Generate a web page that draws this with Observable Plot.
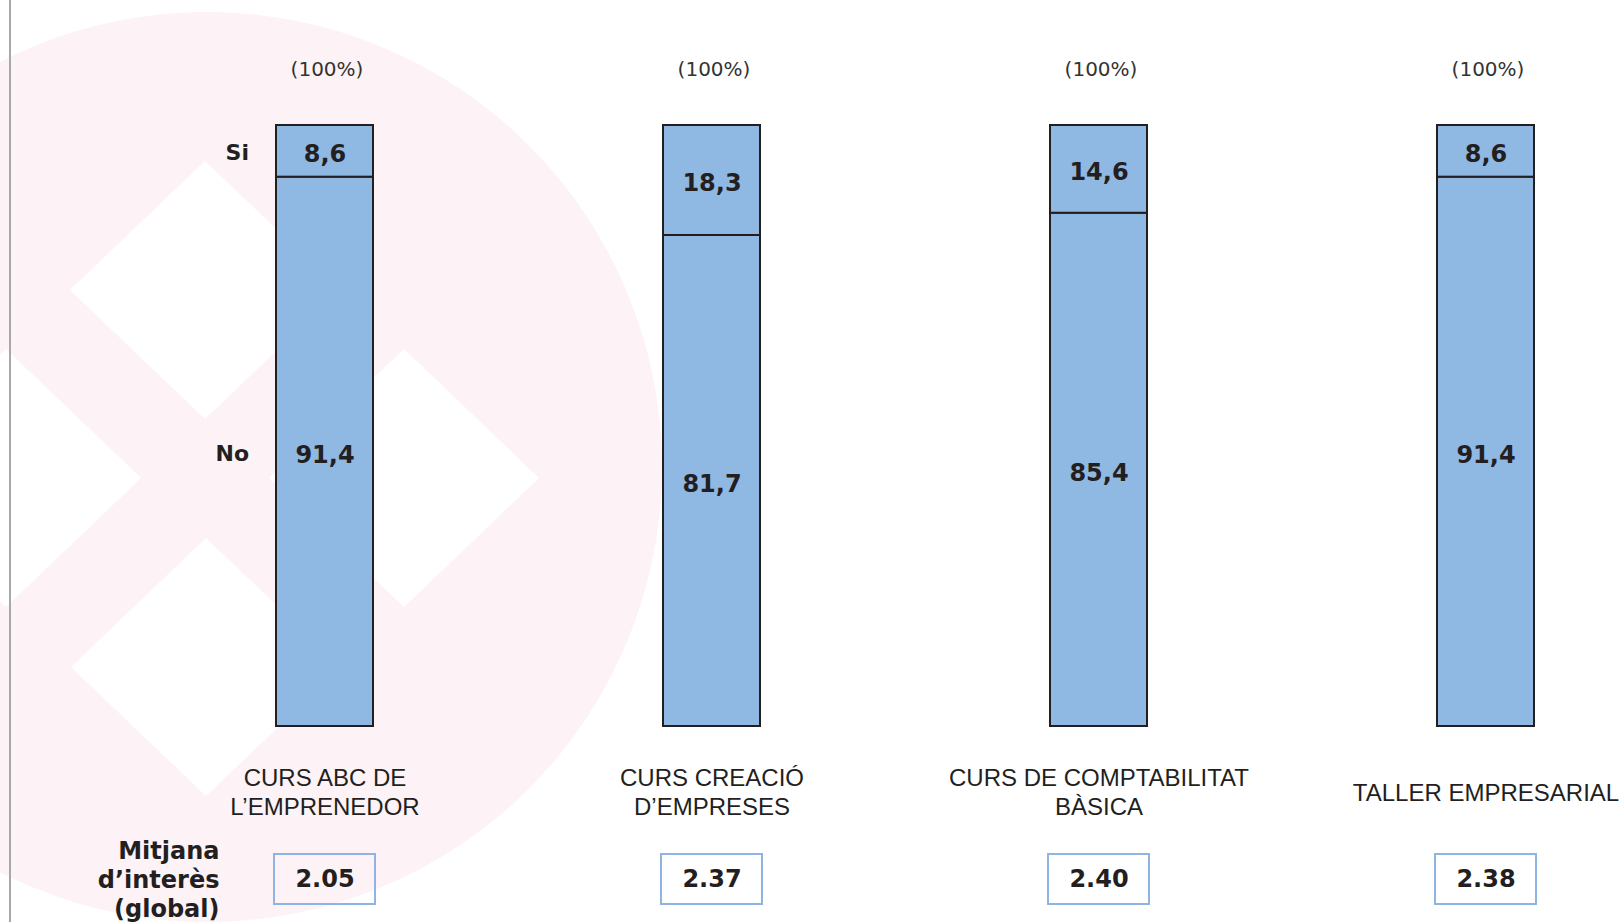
<!DOCTYPE html>
<html>
<head>
<meta charset="utf-8">
<script src="https://cdn.jsdelivr.net/npm/d3@7"></script>
<script src="https://cdn.jsdelivr.net/npm/@observablehq/plot@0.6"></script>
<style>
  html, body { margin: 0; padding: 0; background: #fff; overflow: hidden; }
  #wrap { position: relative; width: 1623px; height: 922px; }
  #bg, #chart { position: absolute; left: 0; top: 0; }
</style>
</head>
<body>
<div id="wrap">
  <svg id="bg" width="1623" height="922">
    <circle cx="207" cy="467" r="455" fill="#fdf2f5"/>
    <g fill="#ffffff">
      <polygon points="70,290 205,161 340,290 205,419"/>
      <polygon points="269,478 404,349 539,478 404,607"/>
      <polygon points="71,667 206,538 341,667 206,796"/>
      <polygon points="-129,478 6,349 141,478 6,607"/>
    </g>
    <line x1="10" y1="0" x2="10" y2="922" stroke="#a8a8a8" stroke-width="2"/>
  </svg>
  <div id="chart"></div>
</div>
<script>
// ---- data ----
const categories = [
  "CURS ABC DE\nL’EMPRENEDOR",
  "CURS CREACIÓ\nD’EMPRESES",
  "CURS DE COMPTABILITAT\nBÀSICA",
  "TALLER EMPRESARIAL"
];
const answers = ["No", "Si"];
const noValues = [91.4, 81.7, 85.4, 91.4];
const siValues = [8.6, 18.3, 14.6, 8.6];
const meanInterest = [2.05, 2.37, 2.40, 2.38];
const meanLabel = "Mitjana\nd’interès\n(global)";

// ---- tables built from the arrays ----
const rows = [];
categories.forEach((c, i) => {
  rows.push({category: c, answer: answers[0], value: noValues[i]});
  rows.push({category: c, answer: answers[1], value: siValues[i]});
});
const totals = categories.map((c, i) => ({category: c, total: noValues[i] + siValues[i]}));
const means = categories.map((c, i) => ({category: c, mean: meanInterest[i]}));
const fmt = v => v.toFixed(1).replace(".", ",");

const ink = "#231f20";
const bold = {fontFamily: "DejaVu Sans", fontWeight: "bold", fill: ink};

const chart = Plot.plot({
  width: 1623,
  height: 922,
  marginTop: 125,
  marginBottom: 196,
  marginLeft: 227,
  marginRight: 40,
  style: {background: "transparent", overflow: "visible"},
  x: {type: "band", domain: categories, paddingInner: 0.75, paddingOuter: 0.125, axis: null},
  y: {domain: [0, 100], axis: null},
  marks: [
    Plot.barY(rows, {x: "category", y: "value", z: "answer", fill: "#8fb8e3", stroke: ink, strokeWidth: 2}),
    Plot.text(rows, Plot.stackY({x: "category", y: "value", z: "answer", text: d => fmt(d.value), dy: 3, fontSize: 24, ...bold})),
    Plot.text(rows.filter(d => d.category === categories[0]), Plot.stackY({
      x: "category", y: "value", z: "answer", text: "answer",
      textAnchor: "end", dx: -76, dy: 2, fontSize: 22, ...bold
    })),
    Plot.text(totals, {
      x: "category", y: "total", text: d => `(${Math.round(d.total)}%)`,
      dy: -56, dx: 2, fontFamily: "DejaVu Sans", fontSize: 20, fill: "#333"
    }),
    Plot.text(categories, {
      x: d => d, text: d => d, frameAnchor: "bottom", dy: 65, lineAnchor: "middle",
      lineHeight: 1.21, fontFamily: "Liberation Sans", fontSize: 24, fill: ink
    }),
    Plot.cell(means, {
      x: "category", fill: "none", stroke: "#8db4e2", strokeWidth: 2,
      insetTop: 729, insetBottom: -178, insetLeft: -2, insetRight: -2
    }),
    Plot.text(means, {
      x: "category", text: d => d.mean.toFixed(2), frameAnchor: "bottom", dy: 153,
      lineAnchor: "middle", fontSize: 24, ...bold
    }),
    Plot.text([categories[0]], {
      x: d => d, text: () => meanLabel, frameAnchor: "bottom", dy: 152, dx: -105.5,
      textAnchor: "end", lineAnchor: "middle", lineHeight: 1.22, fontSize: 24, ...bold
    })
  ]
});
document.getElementById("chart").appendChild(chart);
</script>
</body>
</html>
